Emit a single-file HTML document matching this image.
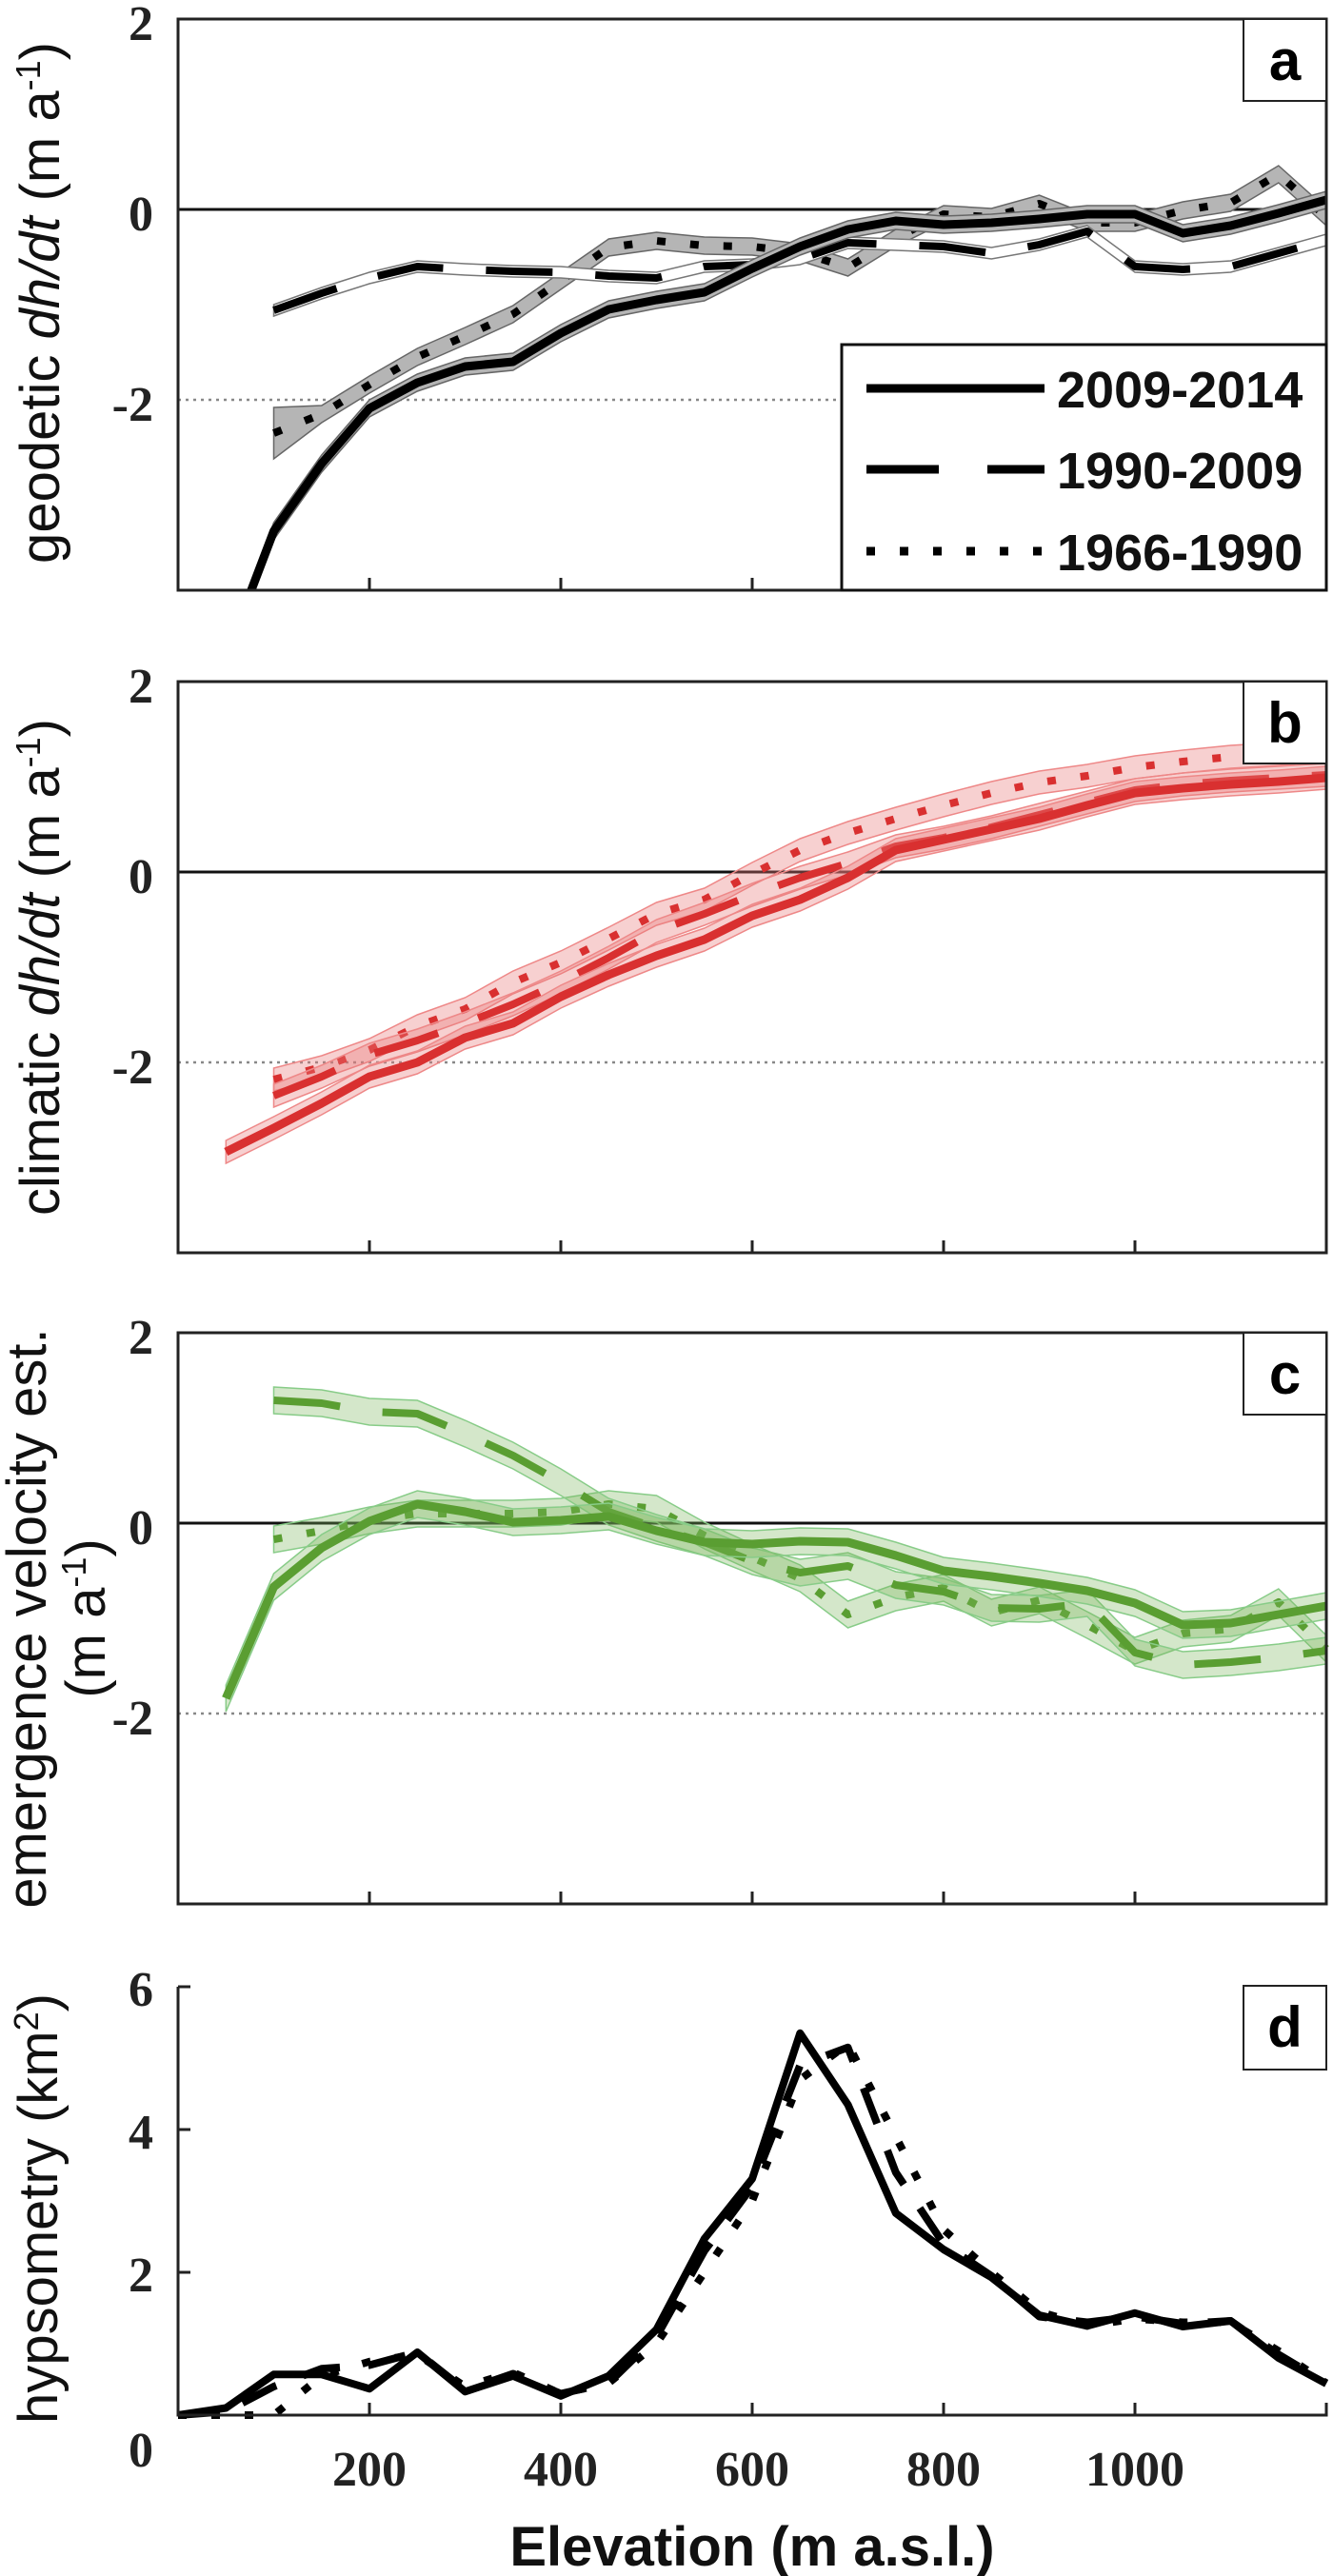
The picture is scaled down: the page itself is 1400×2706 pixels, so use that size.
<!DOCTYPE html>
<html><head><meta charset="utf-8"><style>
html,body{margin:0;padding:0;background:#fff}
svg{display:block}
.tick{font-family:"Liberation Serif",serif;font-weight:bold;font-size:52px;fill:#222}
.ylab{font-family:"Liberation Sans",sans-serif;font-size:58px;fill:#111}
.plab{font-family:"Liberation Sans",sans-serif;font-weight:bold;font-size:60px;fill:#000}
.leg{font-family:"Liberation Sans",sans-serif;font-weight:bold;font-size:54px;fill:#111}
</style></head><body>
<svg id="fig" xmlns="http://www.w3.org/2000/svg" width="1400" height="2706" viewBox="0 0 1400 2706">
<defs>
<clipPath id="clipA"><rect x="187" y="20" width="1206" height="600"/></clipPath>
</defs>
</svg>
<script>
// ---- shared axis ----
const xTicks = [200, 400, 600, 800, 1000, 1200];
const xTickLabels = ["200", "400", "600", "800", "1000"];
const elevA = [100,150,200,250,300,350,400,450,500,550,600,650,700,750,800,850,900,950,1000,1050,1100,1150,1200];
const elevSolidStart = [50].concat(elevA);
const elevD = [0,50,100,150,200,250,300,350,400,450,500,550,600,650,700,750,800,850,900,950,1000,1050,1100,1150,1200];
// ---- panel a: geodetic dh/dt ----
const aSolid = [-4.7,-3.38,-2.67,-2.09,-1.82,-1.65,-1.6,-1.3,-1.05,-0.95,-0.87,-0.62,-0.39,-0.21,-0.12,-0.16,-0.14,-0.10,-0.05,-0.05,-0.25,-0.17,-0.04,0.10];
const aDashed = [-1.06,-0.88,-0.72,-0.6,-0.63,-0.65,-0.66,-0.70,-0.72,-0.60,-0.58,-0.52,-0.35,-0.37,-0.39,-0.46,-0.37,-0.23,-0.60,-0.63,-0.60,-0.46,-0.32];
const aDotted = [-2.35,-2.15,-1.84,-1.55,-1.33,-1.1,-0.75,-0.4,-0.33,-0.38,-0.39,-0.45,-0.61,-0.30,-0.05,-0.08,0.06,-0.14,-0.14,-0.01,0.07,0.37,-0.08];
// ---- panel b: climatic dh/dt ----
const bSolid = [-2.94,-2.69,-2.43,-2.15,-2.0,-1.74,-1.59,-1.31,-1.08,-0.88,-0.71,-0.46,-0.29,-0.06,0.23,0.34,0.45,0.56,0.70,0.83,0.88,0.92,0.95,0.99];
const bDashed = [-2.35,-2.15,-1.92,-1.77,-1.59,-1.39,-1.16,-0.9,-0.62,-0.44,-0.24,-0.06,0.09,0.27,0.36,0.47,0.6,0.73,0.86,0.92,0.96,0.99,1.02];
const bDotted = [-2.18,-2.05,-1.87,-1.62,-1.44,-1.16,-0.95,-0.7,-0.44,-0.29,-0.02,0.23,0.41,0.56,0.70,0.83,0.94,1.01,1.10,1.16,1.21,1.24,1.28];
// ---- panel c: emergence velocity ----
const cSolid = [-1.84,-0.67,-0.26,0.02,0.20,0.12,0.01,0.03,0.07,-0.08,-0.20,-0.22,-0.19,-0.20,-0.34,-0.50,-0.56,-0.63,-0.71,-0.84,-1.07,-1.05,-0.96,-0.87];
const cDashed = [1.29,1.26,1.17,1.15,0.94,0.71,0.43,0.12,-0.05,-0.20,-0.40,-0.52,-0.45,-0.65,-0.72,-0.89,-0.90,-0.84,-1.36,-1.49,-1.46,-1.41,-1.34];
const cDotted = [-0.17,-0.08,0.03,0.10,0.10,0.10,0.12,0.20,0.15,-0.13,-0.36,-0.58,-0.96,-0.78,-0.68,-0.94,-0.81,-1.07,-1.34,-1.16,-1.11,-0.83,-1.32];
// ---- panel d: hypsometry ----
const dSolid = [0,0.1,0.57,0.57,0.37,0.88,0.33,0.55,0.27,0.55,1.2,2.47,3.31,5.35,4.35,2.83,2.32,1.93,1.40,1.25,1.43,1.24,1.32,0.8,0.44];
const dDashed = [0,0.05,0.4,0.65,0.7,0.88,0.35,0.58,0.3,0.45,1.1,2.3,3.2,4.9,5.15,3.4,2.4,1.95,1.38,1.3,1.38,1.28,1.32,0.85,0.45];
const dDotted = [0,0,0,0.55,0.75,0.85,0.4,0.6,0.3,0.45,1.0,2.0,3.0,4.7,5.2,3.9,2.6,2.0,1.45,1.25,1.35,1.3,1.3,0.9,0.45];
const legendLabels = ["2009-2014","1990-2009","1966-1990"];

const NS = "http://www.w3.org/2000/svg";
const svg = document.getElementById("fig");
const X0 = 187, X1 = 1393;
function xs(m){ return X0 + m * (X1 - X0) / 1200; }
function mk(tag, attrs, parent){
  const e = document.createElementNS(NS, tag);
  for (const k in attrs) e.setAttribute(k, attrs[k]);
  (parent || svg).appendChild(e);
  return e;
}
function pts(el, vals, ys){ return el.map((m,i)=>xs(m).toFixed(1)+","+ys(vals[i]).toFixed(1)).join(" "); }
function bandPath(el, vals, ys, w, wide){
  const wf = i => (wide && i === 0) ? w * 3 : w;
  const up = el.map((m,i)=>xs(m).toFixed(1)+","+ys(vals[i]+wf(i)).toFixed(1));
  const dn = el.map((m,i)=>xs(m).toFixed(1)+","+ys(vals[i]-wf(i)).toFixed(1)).reverse();
  return "M"+up.join(" L")+" L"+dn.join(" L")+" Z";
}

const panels = [
  {key:"a", top:20, y0:220, k:100, bottom:620, color:"#000"},
  {key:"b", top:716, y0:916, k:100, bottom:1316, color:"#d93030"},
  {key:"c", top:1400, y0:1600, k:100, bottom:2000, color:"#5a9e32"}
];

panels.forEach(p=>{
  const ys = v => p.y0 - v * p.k;
  const g = mk("g", {});
  
  
  const zl = mk("line", {x1:X0, x2:X1, y1:ys(0), y2:ys(0), stroke:"#111", "stroke-width":3}, g);
  
  
  const ml = mk("line", {x1:X0, x2:X1, y1:ys(-2), y2:ys(-2), stroke:"#888", "stroke-width":2.5, "stroke-dasharray":"3 5"}, g);
  
  

  let sets;
  if (p.key === "a") sets = [[elevA,aDotted,"dotted"],[elevA,aDashed,"dashed"],[elevSolidStart,aSolid,"solid"]];
  if (p.key === "b") sets = [[elevA,bDotted,"dotted"],[elevA,bDashed,"dashed"],[elevSolidStart,bSolid,"solid"]];
  if (p.key === "c") sets = [[elevA,cDotted,"dotted"],[elevA,cDashed,"dashed"],[elevSolidStart,cSolid,"solid"]];
  const sg = mk("g", p.key==="a" ? {"clip-path":"url(#clipA)"} : {}, g);
  sets.forEach(([el, vals, style])=>{
    let bf, bs, bw;
    if (p.key === "a") {
      if (style==="dashed"){ bf="#fff"; bs="#777"; bw=0.06; }
      else { bf="#b5b5b5"; bs="#666"; bw=0.09; }
    } else if (p.key === "b") { bf="rgba(232,120,120,0.35)"; bs="#e88"; bw=0.12; }
    else { bf="rgba(120,180,90,0.32)"; bs="#8c8"; bw=0.14; }
    const band = mk("path", {d:bandPath(el, vals, ys, bw, p.key==="a" && style==="dotted"), fill:bf, stroke:bs, "stroke-width":1.5}, sg);
    
    
    const attrs = {points:pts(el, vals, ys), fill:"none", stroke:p.color, "stroke-width":style==="solid"?9:8, "stroke-linejoin":"round"};
    if (style==="dashed") attrs["stroke-dasharray"] = "70 45";
    if (style==="dotted") attrs["stroke-dasharray"] = "9 26";
    const ln = mk("polyline", attrs, sg);
    
    
  });

  const fr = mk("rect", {x:X0, y:p.top, width:X1-X0, height:p.bottom-p.top, fill:"none", stroke:"#222", "stroke-width":3}, g);
  
  
  xTicks.forEach(t=>{
    const tk = mk("line", {x1:xs(t), x2:xs(t), y1:p.bottom, y2:p.bottom-13, stroke:"#222", "stroke-width":3}, g);
    
    
  });
  [2,0,-2].forEach(v=>{
    const t = mk("text", {x:161, y:ys(v)+22, "text-anchor":"end", class:"tick"}, g);
    t.textContent = String(v);
    
    
  });
  const lb = mk("rect", {x:1306, y:p.top, width:87, height:86, fill:"#fff", stroke:"#222", "stroke-width":2}, g);
  
  
  const lt = mk("text", {x:1349.5, y:p.top+64, "text-anchor":"middle", class:"plab"}, g);
  lt.textContent = p.key;
  
  
});

function ytitle(cx, cy, html, name){
  const t = mk("text", {x:0, y:0, transform:`translate(${cx},${cy}) rotate(-90)`, "text-anchor":"middle", class:"ylab"});
  t.innerHTML = html;
  
  
}
ytitle(62, 318, 'geodetic <tspan font-style="italic">dh/dt</tspan> (m a<tspan dy="-20" font-size="36">-1</tspan><tspan dy="20">)</tspan>', 'y-axis-title-a');
ytitle(62, 1016, 'climatic <tspan font-style="italic">dh/dt</tspan> (m a<tspan dy="-20" font-size="36">-1</tspan><tspan dy="20">)</tspan>', 'y-axis-title-b');
ytitle(48, 1700, 'emergence velocity est.', 'y-axis-title-c');
ytitle(110, 1700, '(m a<tspan dy="-20" font-size="36">-1</tspan><tspan dy="20">)</tspan>', 'y-axis-title-c-units');
ytitle(60, 2320, 'hypsometry (km<tspan dy="-20" font-size="36">2</tspan><tspan dy="20">)</tspan>', 'y-axis-title-d');

const lg = mk("g", {});


mk("rect", {x:884, y:362, width:509, height:258, fill:"#fff", stroke:"#111", "stroke-width":3}, lg);
const legY = [408, 493, 579];
const legDash = [null, "76 51", "9 26"];
legendLabels.forEach((lab,i)=>{
  const a = {x1:910, x2:1097, y1:legY[i], y2:legY[i], stroke:"#000", "stroke-width":9};
  if (legDash[i]) a["stroke-dasharray"] = legDash[i];
  const s = mk("line", a, lg);
  
  
  const t = mk("text", {x:1110, y:legY[i]+20, class:"leg"}, lg);
  t.textContent = lab;
  
  
});

(function(){
  const y0 = 2537, k = 75;
  const ys = v => y0 - v * k;
  const g = mk("g", {});
  
  
  [[dDotted,"9 26"],[dDashed,"40 30"],[dSolid,null]].forEach(([vals,dash])=>{
    const a = {points:pts(elevD, vals, ys), fill:"none", stroke:"#000", "stroke-width":8, "stroke-linejoin":"round"};
    if (dash) a["stroke-dasharray"] = dash;
    const l = mk("polyline", a, g);
    
    
  });
  const ax = mk("polyline", {points:`${X0},${ys(6)} ${X0},${y0} ${X1},${y0} ${X1},${y0-13}`, fill:"none", stroke:"#222", "stroke-width":3}, g);
  
  
  [6,4,2].forEach(v=>{
    const tk = mk("line", {x1:X0, x2:X0+13, y1:ys(v), y2:ys(v), stroke:"#222", "stroke-width":3}, g);
    
    
  });
  [6,4,2].forEach(v=>{
    const t = mk("text", {x:161, y:ys(v)+20, "text-anchor":"end", class:"tick"}, g);
    t.textContent = String(v);
    
    
  });
  const z = mk("text", {x:161, y:2591, "text-anchor":"end", class:"tick"}, g);
  z.textContent = "0";
  
  
  xTicks.forEach(t=>{
    const tk = mk("line", {x1:xs(t), x2:xs(t), y1:y0, y2:y0-13, stroke:"#222", "stroke-width":3}, g);
    
    
  });
  xTickLabels.forEach((lab,i)=>{
    const t = mk("text", {x:xs(xTicks[i]), y:2611, "text-anchor":"middle", class:"tick"}, g);
    t.textContent = lab;
    
    
  });
  const lb = mk("rect", {x:1306, y:2086, width:87, height:88, fill:"#fff", stroke:"#222", "stroke-width":2}, g);
  
  
  const lt = mk("text", {x:1349.5, y:2150, "text-anchor":"middle", class:"plab"}, g);
  lt.textContent = "d";
  
  
  const xt = mk("text", {x:790, y:2695, "text-anchor":"middle", class:"ylab", "font-weight":"bold", "font-size":"54"}, g);
  xt.textContent = "Elevation (m a.s.l.)";
  
  
})();
</script>
</body></html>
